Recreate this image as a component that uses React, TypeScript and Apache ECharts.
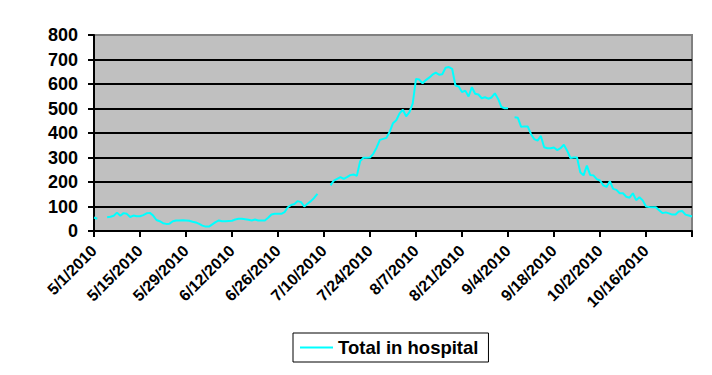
import React, { useEffect, useRef } from "react";
import * as echarts from "echarts";

// Daily values, 5/1/2010 .. 10/30/2010 (null = missing day)
const values: (number | null)[] = [
  55, 50, null, null, 56, 58, 62, 75, 62, 73,
  70, 57, 63, 60, 60, 65, 72, 74, 63, 45,
  40, 32, 29, 30, 40, 43, 43, 44, 43, 42,
  38, 35, 29, 22, 18, 18, 27, 36, 43, 40,
  40, 41, 42, 47, 50, 50, 48, 46, 43, 47,
  43, 43, 43, 54, 67, 70, 70, 70, 77, 97,
  106, 110, 122, 118, 100, 111, 122, 135, 152, null,
  null, null, 186, 206, 213, 220, 213, 220, 228, 231,
  225, 285, 299, 299, 300, 315, 340, 372, 376, 380,
  405, 440, 452, 480, 495, 468, 485, 520, 621, 618,
  603, 616, 626, 638, 646, 638, 640, 666, 669, 662,
  594, 590, 567, 573, 549, 587, 560, 557, 542, 546,
  540, 545, 562, 539, 506, 501, 501, null, 464, 462,
  425, 427, 427, 395, 375, 369, 388, 342, 338, 338,
  341, 330, 338, 352, 328, 298, 300, 300, 240, 227,
  267, 229, 227, 212, 206, 186, 180, 203, 172, 168,
  154, 154, 140, 136, 154, 126, 138, 125, 100, 98,
  97, 97, 85, 73, 76, 72, 67, 67, 80, 82,
  67, 63, 59,
];

const startDate = new Date(2010, 4, 1);
const categories: string[] = values.map((_, i) => {
  const d = new Date(startDate.getTime());
  d.setDate(d.getDate() + i);
  return `${d.getMonth() + 1}/${d.getDate()}/${d.getFullYear()}`;
});
const lastLabel = categories[categories.length - 1];

const yTicks = [0, 100, 200, 300, 400, 500, 600, 700, 800];

export default function App() {
  const ref = useRef<HTMLDivElement>(null);
  useEffect(() => {
    if (!ref.current) return;
    const chart = echarts.init(ref.current, null, { renderer: "svg" });
    const font = "Arial, 'Liberation Sans', sans-serif";
    chart.setOption({
      animation: false,
      backgroundColor: "#ffffff",
      grid: {
        left: 94,
        right: 20,
        top: 35,
        bottom: 144,
        show: true,
        backgroundColor: "#C0C0C0",
        borderColor: "#808080",
        borderWidth: 2,
      },
      xAxis: {
        type: "category",
        data: categories,
        boundaryGap: false,
        axisLine: { lineStyle: { color: "#000", width: 2 } },
        axisTick: { interval: 13, length: 6, lineStyle: { color: "#000", width: 2 } },
        axisLabel: {
          interval: 13,
          rotate: 45,
          margin: 17,
          color: "#000",
          fontWeight: "bold",
          fontSize: 16,
          fontFamily: font,
          formatter: (v: string) => (v === lastLabel ? "" : v),
        },
        splitLine: { show: false },
      },
      yAxis: {
        type: "value",
        min: yTicks[0],
        max: yTicks[yTicks.length - 1],
        interval: 100,
        axisLine: { show: true, lineStyle: { color: "#000", width: 2 } },
        axisTick: { show: true, length: 6, lineStyle: { color: "#000", width: 2 } },
        axisLabel: {
          margin: 16,
          color: "#000",
          fontWeight: "bold",
          fontSize: 18,
          fontFamily: font,
        },
        splitLine: {
          show: true,
          lineStyle: {
            color: ["#000", "#000", "#000", "#000", "#000", "#000", "#000", "#000", "#808080"],
            width: 2,
          },
        },
      },
      legend: {
        show: true,
        left: 293,
        top: 333,
        padding: [5, 10, 5, 7],
        borderColor: "#000",
        borderWidth: 1,
        borderRadius: 0,
        icon: "rect",
        itemWidth: 33,
        itemHeight: 2,
        itemGap: 5,
        textStyle: { color: "#000", fontWeight: "bold", fontSize: 18.5, fontFamily: font },
        data: ["Total in hospital"],
      },
      series: [
        {
          name: "Total in hospital",
          type: "line",
          data: values,
          symbol: "none",
          connectNulls: false,
          lineStyle: { color: "#00FFFF", width: 2 },
          itemStyle: { color: "#00FFFF" },
        },
      ],
    });
    return () => chart.dispose();
  }, []);
  return (
    <div
      ref={ref}
      style={{ position: "fixed", left: 0, top: 0, width: 712, height: 375 }}
    />
  );
}
